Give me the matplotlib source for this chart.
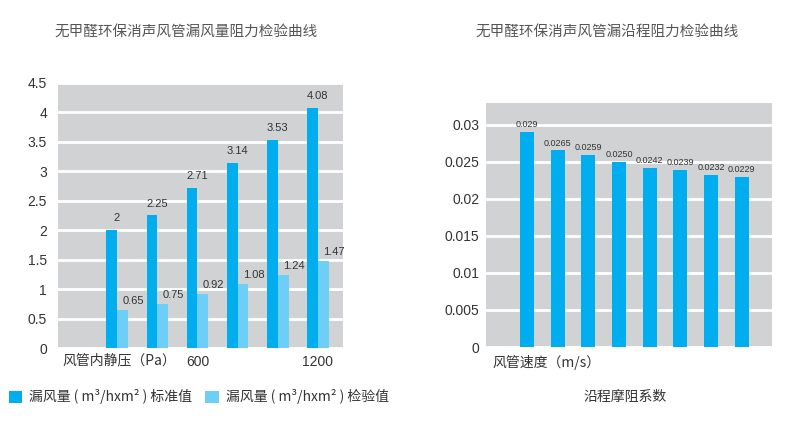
import matplotlib
matplotlib.use("Agg")
import matplotlib.pyplot as plt
from matplotlib.patches import Patch
import numpy as np

plt.rcParams['font.family'] = ['Liberation Sans', 'Noto Sans CJK SC', 'DejaVu Sans']
CJK = ['Noto Sans CJK SC', 'DejaVu Sans']

# ---- data ----
pressure_labels = ['', '', '600', '', '', '1200']
leak_standard = [2, 2.25, 2.71, 3.14, 3.53, 4.08]
leak_test = [0.65, 0.75, 0.92, 1.08, 1.24, 1.47]
left_yticks = [0, 0.5, 1, 1.5, 2, 2.5, 3, 3.5, 4, 4.5]
left_yticklabels = ['0', '0.5', '1', '1.5', '2', '2.5', '3', '3.5', '4', '4.5']

friction = [0.029, 0.0265, 0.0259, 0.0250, 0.0242, 0.0239, 0.0232, 0.0229]
friction_labels = ['0.029', '0.0265', '0.0259', '0.0250', '0.0242', '0.0239', '0.0232', '0.0229']
right_yticks = [0, 0.005, 0.01, 0.015, 0.02, 0.025, 0.03]
right_yticklabels = ['0', '0.005', '0.01', '0.015', '0.02', '0.025', '0.03']

DARK = '#00AEEF'
LIGHT = '#6DCFF6'
BG = '#D1D2D4'
TXT = '#333333'

fig = plt.figure(figsize=(7.95, 4.25), dpi=100)

# ---- left chart ----
axL = fig.add_axes([0.073, 0.181, 0.3584, 0.624])
axL.set_facecolor(BG)
n = len(leak_standard)
x = np.arange(1, n + 1)
w = 0.27
axL.bar(x - w / 2, leak_standard, width=w, color=DARK, zorder=3)
axL.bar(x + w / 2, leak_test, width=w, color=LIGHT, zorder=3)
for xi, v in zip(x, leak_standard):
    axL.annotate(f'{v:g}', (xi - w / 2 + 0.12, v), xytext=(0, 5), textcoords='offset points',
                 ha='center', va='bottom', fontsize=8, color=TXT)
for xi, v in zip(x, leak_test):
    axL.annotate(f'{v:g}', (xi + w / 2 + 0.27, v), xytext=(0, 3), textcoords='offset points',
                 ha='center', va='bottom', fontsize=8, color=TXT)
axL.set_xlim(-0.475, 6.625)
axL.set_ylim(0, 4.5)
axL.set_yticks(left_yticks)
axL.set_yticklabels(left_yticklabels)
axL.set_xticks(x)
axL.set_xticklabels(pressure_labels)
axL.grid(axis='y', color='white', linewidth=2, zorder=1)
axL.set_axisbelow(True)
axL.tick_params(axis='both', length=0, labelsize=10, labelcolor=TXT)
axL.tick_params(axis='y', pad=8)
axL.tick_params(axis='x', pad=5)
for s in axL.spines.values():
    s.set_visible(False)

fig.text(0.078, 0.153, '风管内静压（Pa）', family=CJK, fontsize=10, color=TXT, va='center', ha='left')
fig.text(0.234, 0.925, '无甲醛环保消声风管漏风量阻力检验曲线', family=CJK, fontsize=10.5,
         color='#555555', ha='center', va='center')

# ---- right chart ----
axR = fig.add_axes([0.611, 0.1835, 0.36, 0.5741])
axR.set_facecolor(BG)
xr = np.arange(len(friction))
axR.bar(xr, friction, width=0.456, color=DARK, zorder=3)
for xi, v, lab in zip(xr, friction, friction_labels):
    axR.annotate(lab, (xi, v), xytext=(0, 2), textcoords='offset points',
                 ha='center', va='bottom', fontsize=6.5, color=TXT)
axR.set_xlim(-1.34, 7.98)
axR.set_ylim(0, 0.0329)
axR.set_yticks(right_yticks)
axR.set_yticklabels(right_yticklabels)
axR.set_xticks([])
axR.grid(axis='y', color='white', linewidth=2, zorder=1)
axR.set_axisbelow(True)
axR.tick_params(axis='both', length=0, labelsize=10, labelcolor=TXT)
axR.tick_params(axis='y', pad=4.5)
for s in axR.spines.values():
    s.set_visible(False)

fig.text(0.620, 0.146, '风管速度（m/s）', family=CJK, fontsize=10, color=TXT, va='center', ha='left')
fig.text(0.786, 0.066, '沿程摩阻系数', family=CJK, fontsize=10, color=TXT, va='center', ha='center')
fig.text(0.764, 0.925, '无甲醛环保消声风管漏沿程阻力检验曲线', family=CJK, fontsize=10.5,
         color='#555555', ha='center', va='center')

# ---- legend ----
handles = [Patch(facecolor=DARK, edgecolor='none', label='漏风量 ( m³/hxm² ) 标准值'),
           Patch(facecolor=LIGHT, edgecolor='none', label='漏风量 ( m³/hxm² ) 检验值')]
fig.legend(handles=handles, loc='center left', bbox_to_anchor=(-0.005, 0.066), ncol=2,
           frameon=False, handlelength=1.0, handleheight=1.0, handletextpad=0.5,
           columnspacing=0.9, prop={'family': CJK, 'size': 10}, labelcolor=TXT)

fig.savefig('out.png', dpi=100, facecolor='white')
